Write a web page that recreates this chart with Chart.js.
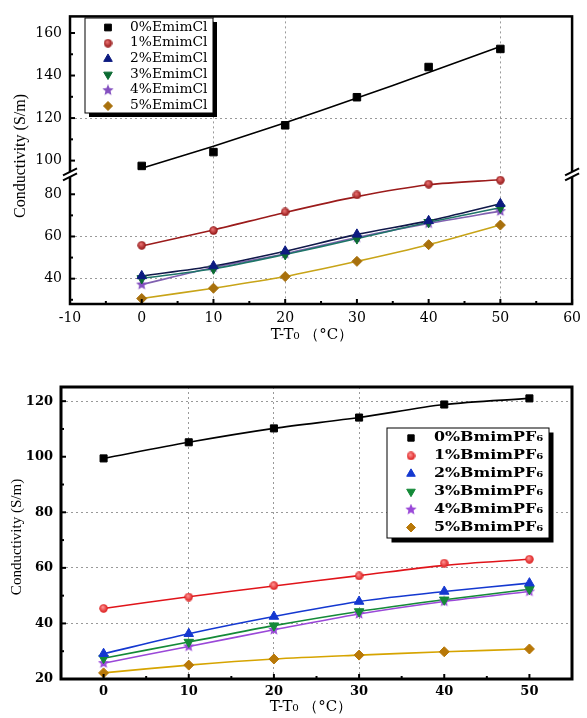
<!DOCTYPE html>
<html>
<head>
<meta charset="utf-8">
<script src="https://cdn.jsdelivr.net/npm/chart.js@4/dist/chart.umd.min.js"></script>
<style>
body { margin: 0; background: #fff; }
#wrap { position: relative; width: 587px; height: 718px; }
.box { position: absolute; left: 0; width: 587px; }
#top { top: 0; height: 345px; }
#bot { top: 345px; height: 373px; }
</style>
</head>
<body>
<div id="wrap">
  <div class="box" id="top"><canvas id="c1"></canvas></div>
  <div class="box" id="bot"><canvas id="c2"></canvas></div>
</div>
<script>
const temps = [0, 10, 20, 30, 40, 50];

// upper panel: EmimCl
const emimLabels = ['0%EmimCl', '1%EmimCl', '2%EmimCl', '3%EmimCl', '4%EmimCl', '5%EmimCl'];
const emim0 = [97.5, 104, 116.6, 129.8, 144, 152.5];
const emim1 = [55.8, 62.8, 71.6, 79.7, 84.8, 86.7];
const emim2 = [41.3, 46, 53, 61, 67.4, 75.5];
const emim3 = [40.1, 44.7, 51.5, 59, 66.7, 73.6];
const emim4 = [37.2, 45.3, 51.8, 59.5, 66.2, 72];
const emim5 = [30.6, 35.5, 41, 48.2, 56.1, 65.4];
// fitted curves as drawn in the figure
const emim0Fit = [96.4, 106.8, 117.8, 129.4, 141.4, 153.7];
const emim1Fit = [55.5, 63.1, 71.4, 78.9, 84.5, 86.9];

// lower panel: BmimPF6
const bmimLabels = ['0%BmimPF₆', '1%BmimPF₆', '2%BmimPF₆', '3%BmimPF₆', '4%BmimPF₆', '5%BmimPF₆'];
const bmim0 = [99.4, 105.2, 110.2, 114.1, 118.8, 121];
const bmim1 = [45.4, 49.5, 53.6, 57.1, 61.7, 63.1];
const bmim2 = [29.1, 36.3, 42.5, 47.9, 51.5, 54.5];
const bmim3 = [27.5, 33.3, 39.2, 44.3, 48.5, 52.3];
const bmim4 = [25.7, 31.7, 37.7, 43.4, 47.9, 51.5];
const bmim5 = [22.2, 25, 27.2, 28.6, 29.8, 30.8];
// red fitted curve as drawn (passes a little under the 40 point)
const bmim1Fit = [45.4, 49.6, 53.5, 57.2, 60.9, 63.1];

const topXTicks = [-10, 0, 10, 20, 30, 40, 50, 60];
const topYUpTicks = [100, 120, 140, 160];
const topYLowTicks = [40, 60, 80];
const botXTicks = [0, 10, 20, 30, 40, 50];
const botYTicks = [20, 40, 60, 80, 100, 120];

const pts = arr => arr.map((v, i) => ({x: temps[i], y: v}));
const setTicks = list => s => { s.ticks = list.map(v => ({value: v})); };
const gridAt = list => c => (c.tick && list.includes(c.tick.value)) ? '#999' : 'rgba(0,0,0,0)';
const halves = list => list.slice(1).map((v, i) => (v + list[i]) / 2);

function starImg(color, size) {
    const c = document.createElement('canvas');
    c.width = c.height = size;
    const g = c.getContext('2d');
    g.fillStyle = color;
    g.beginPath();
    for (let i = 0; i < 10; i++) {
        const r = i % 2 ? size * 0.22 : size / 2;
        const a = -Math.PI / 2 + i * Math.PI / 5;
        g.lineTo(size / 2 + r * Math.cos(a), size / 2 + r * Math.sin(a));
    }
    g.closePath();
    g.fill();
    return c;
}

function ballImg(dark, light, size) {
    const c = document.createElement('canvas');
    c.width = c.height = size;
    const g = c.getContext('2d');
    const grad = g.createRadialGradient(size * 0.4, size * 0.35, 0.5, size / 2, size / 2, size / 2);
    grad.addColorStop(0, light);
    grad.addColorStop(1, dark);
    g.fillStyle = grad;
    g.beginPath();
    g.arc(size / 2, size / 2, size / 2 - 0.3, 0, Math.PI * 2);
    g.fill();
    return c;
}

function marks(label, data, yAxisID, color, style, radius, rotation) {
    return {
        label, data: pts(data), yAxisID, showLine: false,
        pointStyle: style, pointRadius: radius, pointRotation: rotation || 0,
        pointBackgroundColor: color, pointBorderColor: color, pointBorderWidth: 1
    };
}

function curve(data, yAxisID, color) {
    return {
        data: pts(data), yAxisID, showLine: true, borderColor: color, borderWidth: 1.6,
        pointRadius: 0, tension: 0.3, fill: false
    };
}

// frame, inward ticks, axis break, titles and boxed legend
function decor(cfg) {
    return {
        id: 'decor',
        afterDraw(chart) {
            const ctx = chart.ctx;
            const a = chart.chartArea;
            ctx.save();
            ctx.strokeStyle = '#000';
            ctx.lineWidth = 2;
            cfg.ticks.forEach(t => {
                const s = chart.scales[t.axis];
                t.values.forEach(v => {
                    const p = s.getPixelForValue(v);
                    ctx.beginPath();
                    if (s.isHorizontal()) {
                        ctx.moveTo(p, a.bottom);
                        ctx.lineTo(p, a.bottom - t.len);
                    } else {
                        ctx.moveTo(a.left, p);
                        ctx.lineTo(a.left + t.len, p);
                    }
                    ctx.stroke();
                });
            });
            ctx.lineWidth = cfg.frame;
            ctx.strokeRect(a.left, a.top, a.right - a.left, a.bottom - a.top);

            if (cfg.breakAxis) {
                const yb = chart.scales[cfg.breakAxis].top;
                [a.left, a.right].forEach(x => {
                    ctx.fillStyle = '#fff';
                    ctx.fillRect(x - 3, yb - 2.5, 6, 5);
                    ctx.lineWidth = 2;
                    ctx.strokeStyle = '#000';
                    [-2.5, 2.5].forEach(d => {
                        ctx.beginPath();
                        ctx.moveTo(x - 7, yb + d + 3.5);
                        ctx.lineTo(x + 7, yb + d - 3.5);
                        ctx.stroke();
                    });
                });
            }

            ctx.fillStyle = '#000';
            ctx.textAlign = 'center';
            ctx.textBaseline = 'middle';
            cfg.titles.forEach(t => {
                ctx.save();
                ctx.translate(t.x, t.y);
                if (t.rot) ctx.rotate(t.rot);
                ctx.font = t.font;
                ctx.fillText(t.text, 0, 0);
                ctx.restore();
            });

            const L = cfg.legend;
            ctx.fillStyle = '#000';
            ctx.fillRect(L.x + L.shadow, L.y + L.shadow, L.w, L.h);
            ctx.fillStyle = '#fff';
            ctx.fillRect(L.x, L.y, L.w, L.h);
            ctx.lineWidth = 1;
            ctx.strokeStyle = '#000';
            ctx.strokeRect(L.x, L.y, L.w, L.h);
            chart.data.datasets.filter(d => d.label).forEach((d, i) => {
                const y = L.y + L.first + i * L.step;
                ctx.fillStyle = d.pointBackgroundColor;
                ctx.strokeStyle = d.pointBorderColor;
                Chart.helpers.drawPoint(ctx, {
                    pointStyle: d.pointStyle, rotation: d.pointRotation || 0,
                    radius: d.pointRadius * 0.9, borderWidth: 1
                }, L.x + L.mark, y);
                ctx.save();
                ctx.translate(L.x + L.text, y);
                ctx.scale(L.sx, 1);
                ctx.font = L.font;
                ctx.textAlign = 'left';
                ctx.textBaseline = 'middle';
                ctx.fillStyle = '#000';
                ctx.fillText(d.label, 0, 0);
                ctx.restore();
            });
            ctx.restore();
        }
    };
}

Chart.defaults.color = '#000';
Chart.defaults.animation = false;

const topTickFont = {family: 'DejaVu Serif', size: 14};

new Chart(document.getElementById('c1'), {
    type: 'scatter',
    data: {
        datasets: [
            marks(emimLabels[0], emim0, 'yUp', '#000', 'rect', 5.3),
            marks(emimLabels[1], emim1, 'yLow', '#a01515', ballImg('#8a0c0c', '#e87070', 9), 4.5),
            marks(emimLabels[2], emim2, 'yLow', '#0c1a80', 'triangle', 5.5),
            marks(emimLabels[3], emim3, 'yLow', '#0a6a32', 'triangle', 5.5, 180),
            marks(emimLabels[4], emim4, 'yLow', '#8450c0', starImg('#8450c0', 12), 5),
            marks(emimLabels[5], emim5, 'yLow', '#a8700c', 'rectRot', 5),
            curve(emim0Fit, 'yUp', '#000'),
            curve(emim1Fit, 'yLow', '#9b1b1b'),
            curve(emim2, 'yLow', '#10184a'),
            curve(emim3, 'yLow', '#1e7468'),
            curve(emim4, 'yLow', '#8060b0'),
            curve(emim5, 'yLow', '#c8a418')
        ]
    },
    options: {
        responsive: true,
        maintainAspectRatio: false,
        layout: {padding: {top: 11, right: 10, left: 0, bottom: 0}},
        plugins: {legend: {display: false}, tooltip: {enabled: false}},
        scales: {
            x: {
                type: 'linear', min: -10, max: 60,
                afterBuildTicks: setTicks(topXTicks),
                afterFit: s => { s.height = 41; },
                ticks: {padding: 6, font: topTickFont},
                grid: {drawTicks: false, color: gridAt([10, 20, 50]), lineWidth: 1},
                border: {display: false, dash: [2, 3]}
            },
            yLow: {
                type: 'linear', position: 'left', stack: 'y', stackWeight: 132, weight: 0,
                min: 28, max: 89.4,
                afterBuildTicks: setTicks(topYLowTicks),
                afterFit: s => { s.width = 70; },
                ticks: {padding: 8, font: topTickFont},
                grid: {drawTicks: false, color: gridAt([40, 60]), lineWidth: 1},
                border: {display: false, dash: [2, 3]}
            },
            yUp: {
                type: 'linear', position: 'left', stack: 'y', stackWeight: 161, weight: 1,
                min: 93.5, max: 167.8,
                afterBuildTicks: setTicks(topYUpTicks),
                afterFit: s => { s.width = 70; },
                ticks: {padding: 8, font: topTickFont},
                grid: {drawTicks: false, color: gridAt([120]), lineWidth: 1},
                border: {display: false, dash: [2, 3]}
            }
        }
    },
    plugins: [decor({
        frame: 2.5,
        breakAxis: 'yLow',
        ticks: [
            {axis: 'x', values: topXTicks, len: 5},
            {axis: 'x', values: halves(topXTicks), len: 3},
            {axis: 'yUp', values: topYUpTicks, len: 5},
            {axis: 'yUp', values: [110, 130, 150], len: 3},
            {axis: 'yLow', values: topYLowTicks, len: 5},
            {axis: 'yLow', values: [30, 50, 70], len: 3}
        ],
        titles: [
            {text: 'T-T₀ （°C）', x: 312, y: 335, font: '15px "DejaVu Serif"'},
            {text: 'Conductivity (S/m)', x: 21, y: 156, rot: -Math.PI / 2, font: '16px "Liberation Serif"'}
        ],
        legend: {x: 85, y: 18, w: 128, h: 95, shadow: 4, mark: 23, text: 45, first: 9.5, step: 15.7,
                 font: '12px "DejaVu Serif"', sx: 1.15}
    })]
});

const botTickFont = {family: 'DejaVu Serif', size: 13, weight: 'bold'};

new Chart(document.getElementById('c2'), {
    type: 'scatter',
    data: {
        datasets: [
            marks(bmimLabels[0], bmim0, 'y', '#000', 'rect', 5),
            marks(bmimLabels[1], bmim1, 'y', '#e0141a', ballImg('#d81010', '#ff9090', 9), 4.5),
            marks(bmimLabels[2], bmim2, 'y', '#1438d0', 'triangle', 5.5),
            marks(bmimLabels[3], bmim3, 'y', '#148a38', 'triangle', 5.5, 180),
            marks(bmimLabels[4], bmim4, 'y', '#9a48d8', starImg('#9a48d8', 12), 5),
            marks(bmimLabels[5], bmim5, 'y', '#b87808', 'rectRot', 5),
            curve(bmim0, 'y', '#000'),
            curve(bmim1Fit, 'y', '#e0141a'),
            curve(bmim2, 'y', '#1438d0'),
            curve(bmim3, 'y', '#148a38'),
            curve(bmim4, 'y', '#9a48d8'),
            curve(bmim5, 'y', '#d6a400')
        ]
    },
    options: {
        responsive: true,
        maintainAspectRatio: false,
        layout: {padding: {top: 42, right: 15, left: 0, bottom: 0}},
        plugins: {legend: {display: false}, tooltip: {enabled: false}},
        scales: {
            x: {
                type: 'linear', min: -5, max: 55,
                afterBuildTicks: setTicks(botXTicks),
                afterFit: s => { s.height = 39; },
                ticks: {padding: 5, font: botTickFont},
                grid: {drawTicks: false, color: gridAt([10, 20, 30]), lineWidth: 1},
                border: {display: false, dash: [2, 3]}
            },
            y: {
                type: 'linear', position: 'left', min: 20, max: 125.1,
                afterBuildTicks: setTicks(botYTicks),
                afterFit: s => { s.width = 61; },
                ticks: {padding: 8, font: botTickFont},
                grid: {drawTicks: false, color: gridAt([40, 60, 80, 120]), lineWidth: 1},
                border: {display: false, dash: [2, 3]}
            }
        }
    },
    plugins: [decor({
        frame: 3,
        breakAxis: null,
        ticks: [
            {axis: 'x', values: botXTicks, len: 5},
            {axis: 'x', values: halves(botXTicks), len: 3},
            {axis: 'y', values: botYTicks, len: 5},
            {axis: 'y', values: halves(botYTicks), len: 3}
        ],
        titles: [
            {text: 'T-T₀ （°C）', x: 311, y: 362, font: '15px "DejaVu Serif"'},
            {text: 'Conductivity (S/m)', x: 17, y: 192, rot: -Math.PI / 2, font: '15px "Liberation Serif"'}
        ],
        legend: {x: 387, y: 83, w: 162, h: 110, shadow: 4.5, mark: 24, text: 47, first: 10, step: 17.9,
                 font: 'bold 13px "DejaVu Serif"', sx: 1.22}
    })]
});
</script>
</body>
</html>
